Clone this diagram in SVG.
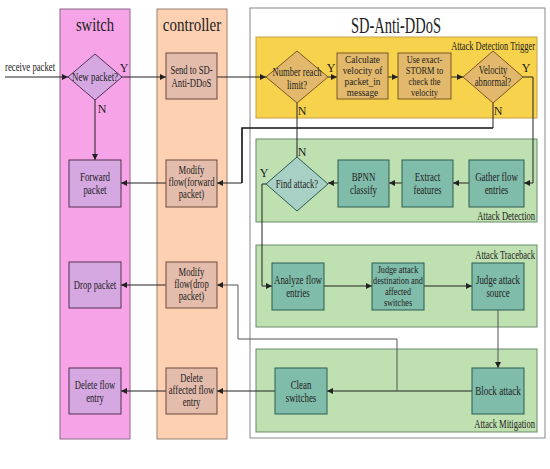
<svg xmlns="http://www.w3.org/2000/svg" width="550" height="469" viewBox="0 0 550 469">
<defs>
<style>
text{font-family:"Liberation Serif","Times New Roman",serif;fill:#222;}
.t{font-size:12px;text-anchor:middle;}
.t4{font-size:10.5px;text-anchor:middle;}
.title{font-size:19px;text-anchor:middle;}
.zl{font-size:12px;text-anchor:end;}
.yn{font-size:12px;text-anchor:middle;}
.lane-s{fill:#f7a3e7;stroke:#8a6a8a;stroke-width:1;}
.lane-c{fill:#fdd0b2;stroke:#9a8070;stroke-width:1;}
.outer{fill:#fff;stroke:#888;stroke-width:1;}
.z-y{fill:#f7d24c;stroke:#c8a040;stroke-width:1;}
.z-g{fill:#bfe0b0;stroke:#6a8a6a;stroke-width:1;}
.n-s{fill:#d6a8e2;stroke:#553355;stroke-width:1;}
.n-c{fill:#e4bcac;stroke:#6a4a3a;stroke-width:1;}
.n-y{fill:#e2b96c;stroke:#7a5820;stroke-width:1;}
.n-g{fill:#80bcaa;stroke:#2d5d50;stroke-width:1;}
.n-gd{fill:#a9d0c4;stroke:#2d5d50;stroke-width:1;}
.c{fill:none;stroke:#222;stroke-width:1;}
.cg{fill:none;stroke:#555;stroke-width:1;}
.ct{fill:none;stroke:#111;stroke-width:1.6;}
</style>
<marker id="ah" viewBox="0 0 6 6" refX="6" refY="3" markerWidth="6" markerHeight="6" markerUnits="userSpaceOnUse" orient="auto">
<path d="M0,0 L6,3 L0,6 z" fill="#222"/>
</marker>
</defs>

<g id="lanes">
<rect class="lane-s" x="60" y="9" width="70" height="430"/>
<rect class="lane-c" x="157" y="9" width="70" height="430"/>
<rect class="outer" x="250" y="8" width="295" height="430"/>
<text class="title" transform="translate(95,31) scale(0.77,1)">switch</text>
<text class="title" transform="translate(192,31) scale(0.79,1)">controller</text>
<text class="title" transform="translate(396,33) scale(0.63,1)" style="font-size:23px">SD-Anti-DDoS</text>
</g>

<g id="zones">
<rect class="z-y" x="256" y="37" width="281" height="81"/>
<rect class="z-g" x="256" y="139" width="281" height="83"/>
<rect class="z-g" x="256" y="245" width="281" height="82"/>
<rect class="z-g" x="256" y="349" width="281" height="83"/>
<text class="zl" transform="translate(535,50) scale(0.7,1)">Attack Detection Trigger</text>
<text class="zl" transform="translate(535,220) scale(0.71,1)">Attack Detection</text>
<text class="zl" transform="translate(535,259) scale(0.71,1)">Attack Traceback</text>
<text class="zl" transform="translate(535,428) scale(0.71,1)">Attack Mitigation</text>
</g>

<g id="connectors">
<path class="c" d="M5,77 H68" marker-end="url(#ah)"/>
<path class="c" d="M122,77 H166" marker-end="url(#ah)"/>
<path class="c" d="M95,100 V160" marker-end="url(#ah)"/>
<path class="c" d="M217,77 H266" marker-end="url(#ah)"/>
<path class="c" d="M328,77 H337" marker-end="url(#ah)"/>
<path class="c" d="M388,77 H398" marker-end="url(#ah)"/>
<path class="c" d="M451,77 H463" marker-end="url(#ah)"/>
<path class="c" d="M523,77 H533 V183 H524" marker-end="url(#ah)"/>
<path class="c" d="M493,103 V128"/>
<path class="ct" d="M493,128 H242 V183"/>
<path class="c" d="M242,183 H217" marker-end="url(#ah)"/>
<path class="c" d="M297,103 V157"/>
<path class="c" d="M469,183 H453" marker-end="url(#ah)"/>
<path class="c" d="M402,183 H389" marker-end="url(#ah)"/>
<path class="c" d="M338,183 H328" marker-end="url(#ah)"/>
<path class="c" d="M266,184 H262 V286 H272" marker-end="url(#ah)"/>
<path class="c" d="M324,286 H372" marker-end="url(#ah)"/>
<path class="c" d="M424,286 H472" marker-end="url(#ah)"/>
<path class="cg" d="M498,310 V368" marker-end="url(#ah)"/>
<path class="c" d="M472,391 H327" marker-end="url(#ah)"/>
<path class="cg" d="M397,391 V339 H238 V285 H217" marker-end="url(#ah)"/>
<path class="c" d="M275,391 H217" marker-end="url(#ah)"/>
<path class="c" d="M166,183 H121" marker-end="url(#ah)"/>
<path class="c" d="M166,285 H121" marker-end="url(#ah)"/>
<path class="c" d="M166,391 H121" marker-end="url(#ah)"/>
<text transform="translate(5,71) scale(0.76,1)" style="font-size:11.5px">receive packet</text>
<text class="yn" x="124" y="72">Y</text>
<text class="yn" x="102" y="113">N</text>
<text class="yn" x="331" y="72">Y</text>
<text class="yn" x="302" y="115">N</text>
<text class="yn" x="526" y="72">Y</text>
<text class="yn" x="498" y="115">N</text>
<text class="yn" x="302" y="156">N</text>
<text class="yn" x="264" y="177">Y</text>
</g>

<g id="new-packet">
<polygon class="n-s" points="68,77 95,54 122,77 95,100"/>
<text class="t" transform="translate(95,81) scale(0.74,1)">New packet?</text>
</g>
<g id="forward-packet">
<rect class="n-s" x="69" y="160" width="52" height="47"/>
<text class="t" transform="translate(95,183) scale(0.74,1)"><tspan x="0" dy="-2">Forward</tspan><tspan x="0" dy="13">packet</tspan></text>
</g>
<g id="drop-packet">
<rect class="n-s" x="69" y="262" width="52" height="46"/>
<text class="t" transform="translate(95,289) scale(0.72,1)">Drop packet</text>
</g>
<g id="delete-flow-entry">
<rect class="n-s" x="69" y="368" width="52" height="46"/>
<text class="t" transform="translate(95,391) scale(0.72,1)"><tspan x="0" dy="-2">Delete flow</tspan><tspan x="0" dy="13">entry</tspan></text>
</g>

<g id="send-to-sd">
<rect class="n-c" x="166" y="53" width="51" height="46"/>
<text class="t" transform="translate(191.5,76) scale(0.72,1)"><tspan x="0" dy="-2">Send to SD-</tspan><tspan x="0" dy="13">Anti-DDoS</tspan></text>
</g>
<g id="modify-forward">
<rect class="n-c" x="166" y="160" width="51" height="47"/>
<text class="t" transform="translate(191.5,183) scale(0.72,1)"><tspan x="0" dy="-9">Modify</tspan><tspan x="0" dy="12">flow(forward</tspan><tspan x="0" dy="12">packet)</tspan></text>
</g>
<g id="modify-drop">
<rect class="n-c" x="166" y="262" width="51" height="46"/>
<text class="t" transform="translate(191.5,285) scale(0.72,1)"><tspan x="0" dy="-9">Modify</tspan><tspan x="0" dy="12">flow(drop</tspan><tspan x="0" dy="12">packet)</tspan></text>
</g>
<g id="delete-affected">
<rect class="n-c" x="166" y="368" width="51" height="46"/>
<text class="t" transform="translate(191.5,391) scale(0.72,1)"><tspan x="0" dy="-9">Delete</tspan><tspan x="0" dy="12">affected flow</tspan><tspan x="0" dy="12">entry</tspan></text>
</g>

<g id="number-reach-limit">
<polygon class="n-y" points="266,77 297,51 328,77 297,103"/>
<text class="t" transform="translate(297,77) scale(0.72,1)"><tspan x="0" dy="-1">Number reach</tspan><tspan x="0" dy="13">limit?</tspan></text>
</g>
<g id="calculate-velocity">
<rect class="n-y" x="337" y="53" width="51" height="46"/>
<text class="t4" transform="translate(362.5,76) scale(0.88,1)"><tspan x="0" dy="-13">Calculate</tspan><tspan x="0" dy="11">velocity of</tspan><tspan x="0" dy="11">packet_in</tspan><tspan x="0" dy="11">message</tspan></text>
</g>
<g id="use-exact-storm">
<rect class="n-y" x="398" y="53" width="53" height="46"/>
<text class="t4" transform="translate(424.5,76) scale(0.8,1)"><tspan x="0" dy="-13">Use exact-</tspan><tspan x="0" dy="11">STORM to</tspan><tspan x="0" dy="11">check the</tspan><tspan x="0" dy="11">velocity</tspan></text>
</g>
<g id="velocity-abnormal">
<polygon class="n-y" points="463,77 493,51 523,77 493,103"/>
<text class="t" transform="translate(493,77) scale(0.72,1)"><tspan x="0" dy="-3">Velocity</tspan><tspan x="0" dy="12">abnormal?</tspan></text>
</g>

<g id="gather-flow">
<rect class="n-g" x="469" y="160" width="55" height="47"/>
<text class="t" transform="translate(496.5,183) scale(0.74,1)"><tspan x="0" dy="-2">Gather flow</tspan><tspan x="0" dy="13">entries</tspan></text>
</g>
<g id="extract-features">
<rect class="n-g" x="402" y="160" width="51" height="47"/>
<text class="t" transform="translate(427.5,183) scale(0.74,1)"><tspan x="0" dy="-2">Extract</tspan><tspan x="0" dy="13">features</tspan></text>
</g>
<g id="bpnn-classify">
<rect class="n-g" x="338" y="160" width="51" height="47"/>
<text class="t" transform="translate(363.5,183) scale(0.74,1)"><tspan x="0" dy="-2">BPNN</tspan><tspan x="0" dy="13">classify</tspan></text>
</g>
<g id="find-attack">
<polygon class="n-gd" points="266,184 297,157 328,184 297,211"/>
<text class="t" transform="translate(297,188) scale(0.72,1)">Find attack?</text>
</g>

<g id="analyze-flow">
<rect class="n-g" x="272" y="263" width="52" height="47"/>
<text class="t" transform="translate(298,286) scale(0.74,1)"><tspan x="0" dy="-2">Analyze flow</tspan><tspan x="0" dy="13">entries</tspan></text>
</g>
<g id="judge-destination">
<rect class="n-g" x="372" y="263" width="52" height="47"/>
<text class="t4" transform="translate(398,286) scale(0.78,1)"><tspan x="0" dy="-13">Judge attack</tspan><tspan x="0" dy="11">destination and</tspan><tspan x="0" dy="11">affected</tspan><tspan x="0" dy="11">switches</tspan></text>
</g>
<g id="judge-source">
<rect class="n-g" x="472" y="263" width="52" height="47"/>
<text class="t" transform="translate(498,286) scale(0.74,1)"><tspan x="0" dy="-2">Judge attack</tspan><tspan x="0" dy="13">source</tspan></text>
</g>

<g id="clean-switches">
<rect class="n-g" x="275" y="368" width="52" height="46"/>
<text class="t" transform="translate(301,391) scale(0.74,1)"><tspan x="0" dy="-2">Clean</tspan><tspan x="0" dy="13">switches</tspan></text>
</g>
<g id="block-attack">
<rect class="n-g" x="472" y="368" width="52" height="46"/>
<text class="t" transform="translate(498,395) scale(0.7,1)" style="font-size:13px">Block attack</text>
</g>
</svg>
